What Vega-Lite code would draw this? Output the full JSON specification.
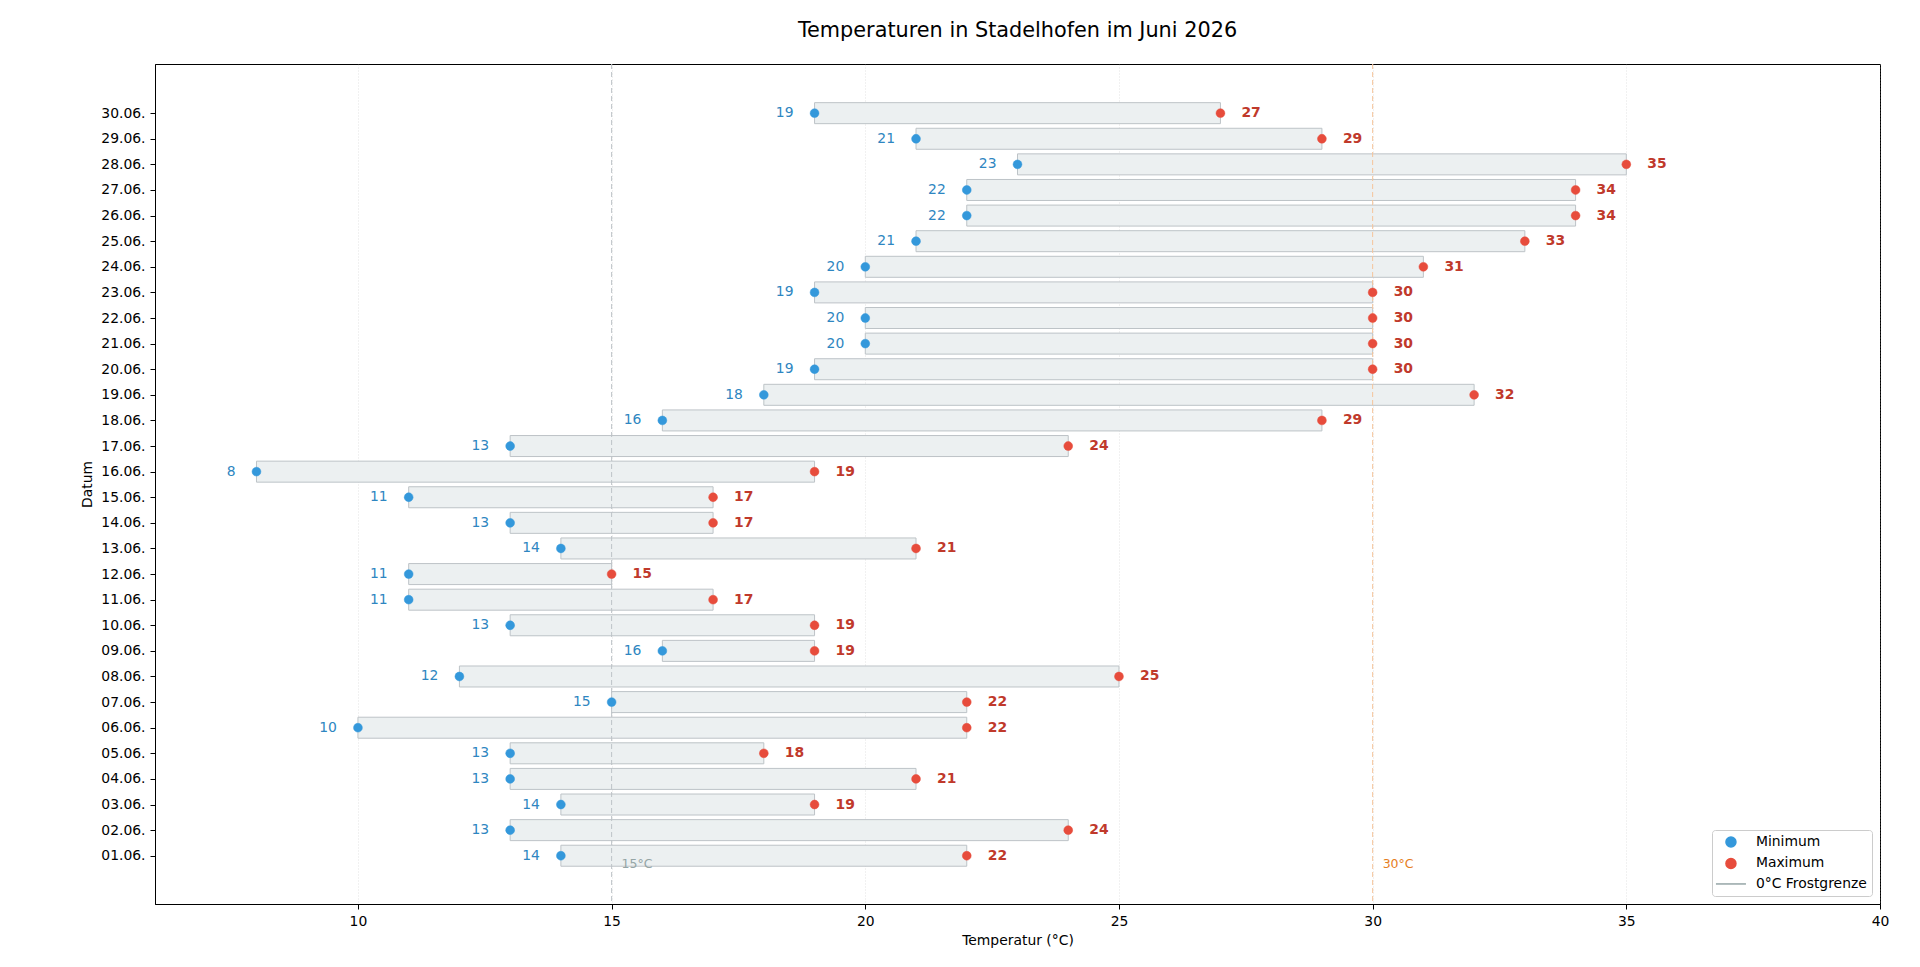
{
  "$schema": "https://vega.github.io/schema/vega-lite/v6.json",
  "width": 1725,
  "height": 840,
  "autosize": {"type": "none"},
  "padding": {"left": 155, "top": 64, "right": 40, "bottom": 63},
  "title": {
    "text": "Temperaturen in Stadelhofen im Juni 2026",
    "fontSize": 20.8,
    "fontWeight": "normal",
    "color": "black",
    "offset": 22
  },
  "datasets": {
    "temps": [
      {"Tag": 1, "Minimum": 14, "Maximum": 22},
      {"Tag": 2, "Minimum": 13, "Maximum": 24},
      {"Tag": 3, "Minimum": 14, "Maximum": 19},
      {"Tag": 4, "Minimum": 13, "Maximum": 21},
      {"Tag": 5, "Minimum": 13, "Maximum": 18},
      {"Tag": 6, "Minimum": 10, "Maximum": 22},
      {"Tag": 7, "Minimum": 15, "Maximum": 22},
      {"Tag": 8, "Minimum": 12, "Maximum": 25},
      {"Tag": 9, "Minimum": 16, "Maximum": 19},
      {"Tag": 10, "Minimum": 13, "Maximum": 19},
      {"Tag": 11, "Minimum": 11, "Maximum": 17},
      {"Tag": 12, "Minimum": 11, "Maximum": 15},
      {"Tag": 13, "Minimum": 14, "Maximum": 21},
      {"Tag": 14, "Minimum": 13, "Maximum": 17},
      {"Tag": 15, "Minimum": 11, "Maximum": 17},
      {"Tag": 16, "Minimum": 8, "Maximum": 19},
      {"Tag": 17, "Minimum": 13, "Maximum": 24},
      {"Tag": 18, "Minimum": 16, "Maximum": 29},
      {"Tag": 19, "Minimum": 18, "Maximum": 32},
      {"Tag": 20, "Minimum": 19, "Maximum": 30},
      {"Tag": 21, "Minimum": 20, "Maximum": 30},
      {"Tag": 22, "Minimum": 20, "Maximum": 30},
      {"Tag": 23, "Minimum": 19, "Maximum": 30},
      {"Tag": 24, "Minimum": 20, "Maximum": 31},
      {"Tag": 25, "Minimum": 21, "Maximum": 33},
      {"Tag": 26, "Minimum": 22, "Maximum": 34},
      {"Tag": 27, "Minimum": 22, "Maximum": 34},
      {"Tag": 28, "Minimum": 23, "Maximum": 35},
      {"Tag": 29, "Minimum": 21, "Maximum": 29},
      {"Tag": 30, "Minimum": 19, "Maximum": 27}
    ],
    "refs": [
      {"temp": 15, "label": "15°C", "Tag": 1},
      {"temp": 30, "label": "30°C", "Tag": 1}
    ]
  },
  "data": {"name": "temps"},
  "encoding": {
    "y": {
      "field": "Tag",
      "type": "quantitative",
      "scale": {"domain": [-0.885, 31.92], "nice": false, "zero": false, "padding": 0},
      "axis": {
        "title": "Datum",
        "titlePadding": 6,
        "values": [1, 2, 3, 4, 5, 6, 7, 8, 9, 10, 11, 12, 13, 14, 15, 16, 17, 18, 19, 20, 21, 22, 23, 24, 25, 26, 27, 28, 29, 30],
        "labelExpr": "(datum.value < 10 ? '0' : '') + datum.value + '.06.'"
      }
    }
  },
  "layer": [
    {
      "mark": {"type": "bar", "orient": "horizontal", "height": 21, "fill": "#ecf0f1", "stroke": "#bdc3c7", "strokeWidth": 1},
      "encoding": {
        "x": {
          "field": "Minimum",
          "type": "quantitative",
          "scale": {"domain": [6, 40], "nice": false, "zero": false, "padding": 0},
          "axis": {"values": [10, 15, 20, 25, 30, 35, 40], "title": "Temperatur (°C)"}
        },
        "x2": {"field": "Maximum"}
      }
    },
    {
      "data": {"name": "refs"},
      "transform": [{"filter": "datum.temp == 15"}],
      "layer": [
        {
          "mark": {"type": "rule", "color": "#bdc3c7", "strokeWidth": 1, "strokeDash": [5, 3]},
          "encoding": {"x": {"field": "temp", "type": "quantitative"}, "y": null}
        },
        {
          "mark": {"type": "text", "align": "left", "baseline": "middle", "dx": 10, "dy": 8, "fontSize": 12.5, "color": "#95a5a6"},
          "encoding": {"x": {"field": "temp", "type": "quantitative"}, "text": {"field": "label"}}
        }
      ]
    },
    {
      "data": {"name": "refs"},
      "transform": [{"filter": "datum.temp == 30"}],
      "layer": [
        {
          "mark": {"type": "rule", "color": "#f5c49a", "strokeWidth": 1, "strokeDash": [5, 3]},
          "encoding": {"x": {"field": "temp", "type": "quantitative"}, "y": null}
        },
        {
          "mark": {"type": "text", "align": "left", "baseline": "middle", "dx": 10, "dy": 8, "fontSize": 12.5, "color": "#e67e22"},
          "encoding": {"x": {"field": "temp", "type": "quantitative"}, "text": {"field": "label"}}
        }
      ]
    },
    {
      "transform": [{"fold": ["Minimum", "Maximum"], "as": ["Serie", "Temp"]}],
      "mark": {"type": "point", "filled": true, "size": 78, "strokeWidth": 0.5, "opacity": 1},
      "encoding": {
        "x": {"field": "Temp", "type": "quantitative"},
        "color": {
          "field": "Serie",
          "type": "nominal",
          "scale": {"domain": ["Minimum", "Maximum", "0°C Frostgrenze"], "range": ["#3498db", "#e74c3c", "#95a5a6"]},
          "legend": {"title": null}
        },
        "stroke": {
          "field": "Serie",
          "type": "nominal",
          "scale": {"domain": ["Minimum", "Maximum", "0°C Frostgrenze"], "range": ["#3498db", "#e74c3c", "#95a5a6"]},
          "legend": {"title": null}
        },
        "shape": {
          "field": "Serie",
          "type": "nominal",
          "scale": {"domain": ["Minimum", "Maximum", "0°C Frostgrenze"], "range": ["circle", "circle", "M-3,0H3"]},
          "legend": {"title": null}
        }
      }
    },
    {
      "mark": {"type": "text", "align": "right", "baseline": "middle", "dx": -21, "fontSize": 13.9, "color": "#2e86c1"},
      "encoding": {"x": {"field": "Minimum", "type": "quantitative"}, "text": {"field": "Minimum"}}
    },
    {
      "mark": {"type": "text", "align": "left", "baseline": "middle", "dx": 21, "fontSize": 13.9, "fontWeight": "bold", "color": "#c0392b"},
      "encoding": {"x": {"field": "Maximum", "type": "quantitative"}, "text": {"field": "Maximum"}}
    }
  ],
  "config": {
    "font": "DejaVu Sans",
    "view": {"stroke": "black", "strokeWidth": 1},
    "axis": {
      "labelFont": "DejaVu Sans",
      "labelFontSize": 13.9,
      "labelColor": "black",
      "titleFont": "DejaVu Sans",
      "titleFontSize": 13.9,
      "titleFontWeight": "normal",
      "titleColor": "black",
      "domainColor": "black",
      "tickColor": "black",
      "tickSize": 5,
      "labelPadding": 5,
      "grid": false,
      "labelFlush": false
    },
    "axisX": {
      "grid": true,
      "gridColor": "#b0b0b0",
      "gridOpacity": 0.35,
      "gridDash": [1, 2],
      "titlePadding": 6
    },
    "legend": {
      "orient": "bottom-right",
      "offset": 8,
      "padding": 5,
      "fillColor": "white",
      "strokeColor": "#cccccc",
      "cornerRadius": 3,
      "labelFont": "DejaVu Sans",
      "labelFontSize": 13.9,
      "labelColor": "black",
      "symbolSize": 100,
      "symbolStrokeWidth": 1.5,
      "symbolOffset": 7,
      "labelOffset": 18,
      "rowPadding": 4.5
    }
  }
}
